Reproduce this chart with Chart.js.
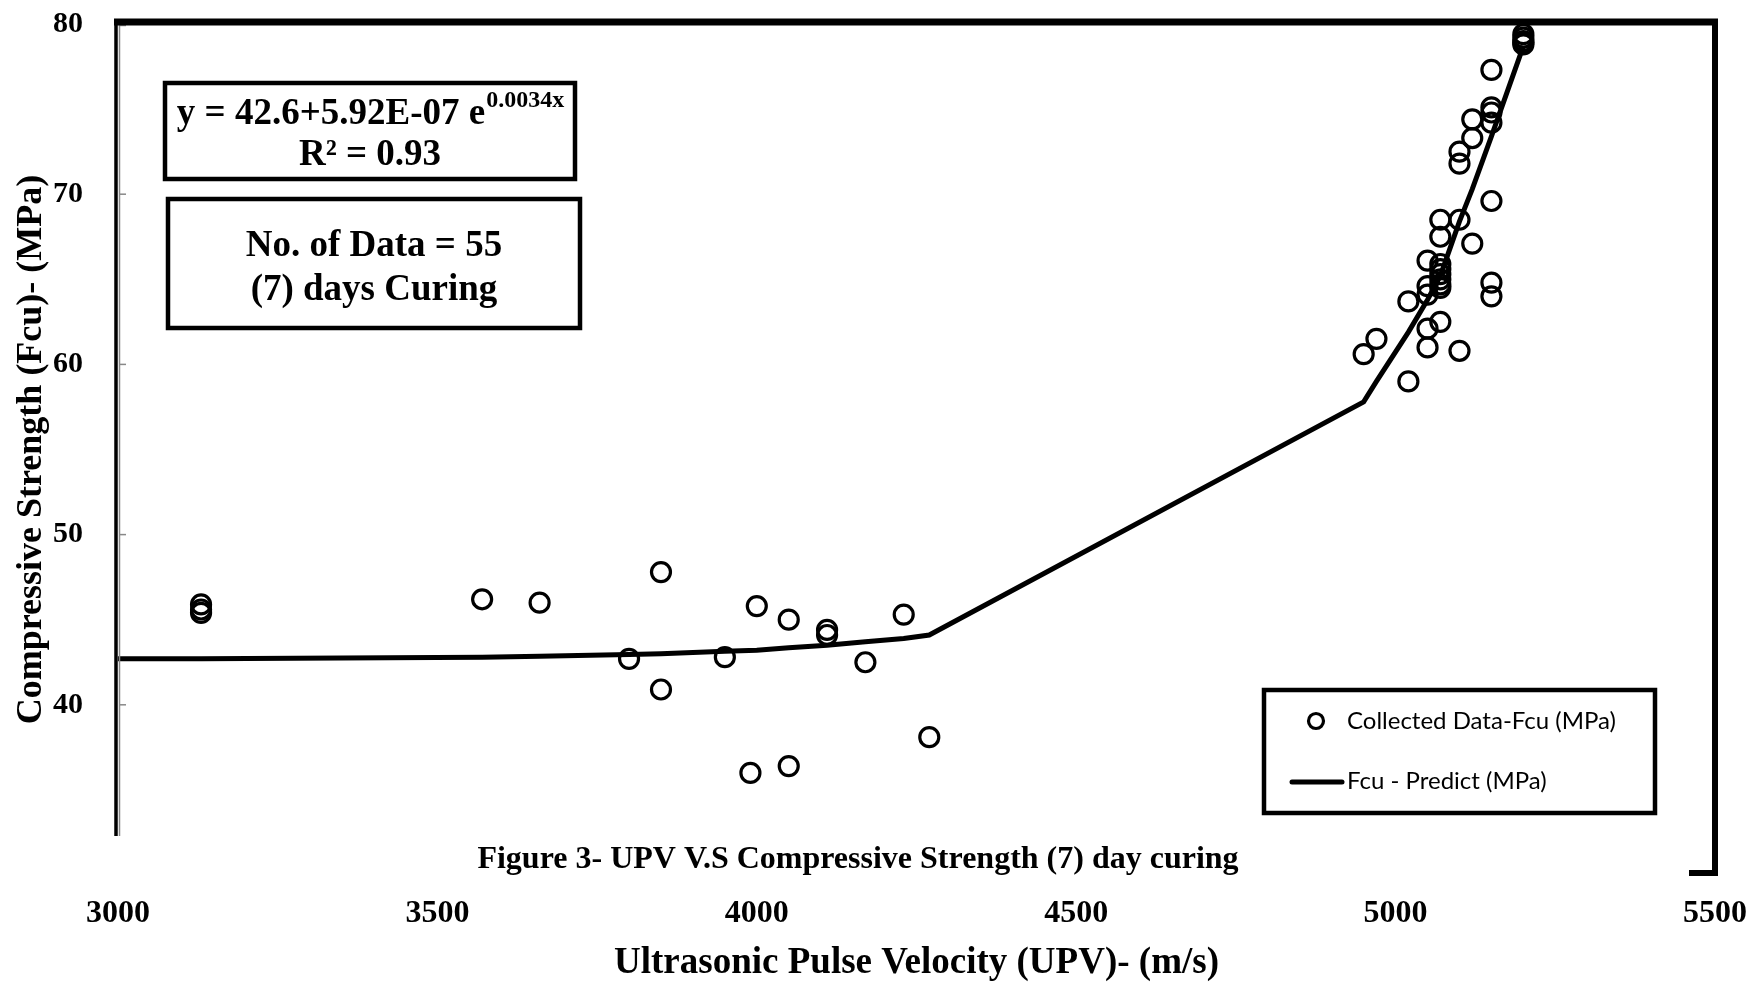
<!DOCTYPE html>
<html>
<head>
<meta charset="utf-8">
<script src="https://cdn.jsdelivr.net/npm/chart.js@4/dist/chart.umd.min.js"></script>
<style>
html,body{margin:0;padding:0;background:#fff;}
#c{display:block;}
</style>
</head>
<body>
<canvas id="c" width="1756" height="983"></canvas>
<script>
// Collected data: UPV (m/s) and Fcu (MPa)
const upvData = [
  3130, 3130, 3130, 3570, 3660, 3800, 3850, 3850, 3950, 3990, 4000, 4050, 4050, 4110, 4110, 4170, 4230, 4270,
  4950, 4970, 5020, 5020,
  5050, 5050, 5050, 5050, 5050,
  5070, 5070, 5070, 5070, 5070, 5070, 5070, 5070, 5070,
  5100, 5100, 5100, 5100,
  5120, 5120, 5120,
  5150, 5150, 5150, 5150, 5150, 5150, 5150,
  5200, 5200, 5200, 5200, 5200
];
const fcuData = [
  45.9, 45.6, 45.4, 46.2, 46.0, 42.7, 47.8, 40.9, 42.8, 36.0, 45.8, 45.0, 36.4, 44.4, 44.1, 42.5, 45.3, 38.1,
  60.6, 61.5, 63.7, 59.0,
  66.1, 64.6, 64.1, 62.1, 61.0,
  68.5, 67.5, 65.9, 65.6, 65.3, 65.0, 64.7, 64.5, 62.5,
  72.5, 71.8, 68.5, 60.8,
  74.4, 73.3, 67.1,
  77.3, 75.1, 74.8, 74.2, 69.6, 64.8, 64.0,
  79.4, 79.2, 79.0, 78.9, 78.8
];
// Predicted Fcu line vertices
const predX = [3000, 3130, 3570, 3660, 3800, 3850, 3950, 4000, 4050, 4110, 4170, 4230, 4270, 4950, 4970, 5020, 5050, 5070, 5100, 5120, 5150, 5200];
const predY = [42.7, 42.7, 42.8, 42.85, 42.95, 43.0, 43.15, 43.2, 43.35, 43.5, 43.7, 43.9, 44.1, 57.8, 59.0, 61.9, 63.8, 65.2, 68.4, 70.3, 73.4, 78.7];
// Axis settings
const xMin = 3000, xMax = 5500, xStep = 500;
const yMin = 30, yMax = 80, yStep = 10;
const xTitle = 'Ultrasonic Pulse Velocity (UPV)- (m/s)';
const yTitle = 'Compressive Strength (Fcu)- (MPa)';
const caption = 'Figure 3- UPV V.S Compressive Strength (7) day curing';
const legendLabels = ['Collected Data-Fcu (MPa)', 'Fcu - Predict (MPa)'];

const serif = '"Liberation Serif", "Times New Roman", serif';

const collected = upvData.map((x, i) => ({x: x, y: fcuData[i]}));
const predicted = predX.map((x, i) => ({x: x, y: predY[i]}));

function box(ctx, x, y, w, h, lw) {
  ctx.save();
  ctx.lineWidth = lw;
  ctx.strokeStyle = '#000';
  ctx.fillStyle = '#fff';
  ctx.fillRect(x, y, w, h);
  ctx.strokeRect(x, y, w, h);
  ctx.restore();
}

const decor = {
  id: 'decor',
  afterDraw(chart) {
    const ctx = chart.ctx;
    const a = chart.chartArea;
    const ys = chart.scales.y;
    ctx.save();
    // white cover band with caption
    ctx.fillStyle = '#fff';
    ctx.fillRect(0, 836, 1690, 44);
    // frame
    ctx.strokeStyle = '#000';
    ctx.lineCap = 'butt';
    // left axis
    ctx.lineWidth = 3.5;
    ctx.beginPath(); ctx.moveTo(a.left - 2, a.top - 4); ctx.lineTo(a.left - 2, 836); ctx.stroke();
    // inner grey line & ticks
    ctx.strokeStyle = '#888';
    ctx.lineWidth = 1.5;
    ctx.beginPath(); ctx.moveTo(a.left + 1.5, a.top + 1); ctx.lineTo(a.left + 1.5, 836); ctx.stroke();
    ctx.beginPath(); ctx.moveTo(a.left + 1.5, a.top + 1.5); ctx.lineTo(a.left + 8, a.top + 1.5); ctx.stroke();
    for (let v = yMin + yStep; v < yMax; v += yStep) {
      const py = ys.getPixelForValue(v);
      ctx.beginPath(); ctx.moveTo(a.left + 1, py); ctx.lineTo(a.left + 8, py); ctx.stroke();
    }
    ctx.strokeStyle = '#000';
    // top border
    ctx.lineWidth = 7;
    ctx.beginPath(); ctx.moveTo(a.left - 4, a.top - 2); ctx.lineTo(a.right + 3, a.top - 2); ctx.stroke();
    // right border
    ctx.lineWidth = 6;
    ctx.beginPath(); ctx.moveTo(a.right, a.top - 5); ctx.lineTo(a.right, 873); ctx.lineTo(1689, 873); ctx.stroke();

    // caption
    ctx.fillStyle = '#000';
    ctx.font = 'bold 32px ' + serif;
    ctx.textAlign = 'center';
    ctx.textBaseline = 'middle';
    ctx.fillText(caption, 858, 860);

    // equation box
    box(ctx, 165, 83, 410, 96, 4.5);
    ctx.fillStyle = '#000';
    ctx.font = 'bold 37px ' + serif;
    ctx.textBaseline = 'alphabetic';
    ctx.textAlign = 'left';
    const main = 'y = 42.6+5.92E-07 e';
    const sup = '0.0034x';
    const w1 = ctx.measureText(main).width;
    ctx.font = 'bold 24px ' + serif;
    const w2 = ctx.measureText(sup).width;
    const sx = 370 - (w1 + w2) / 2;
    ctx.font = 'bold 37px ' + serif;
    ctx.fillText(main, sx, 124);
    ctx.font = 'bold 24px ' + serif;
    ctx.fillText(sup, sx + w1 + 1, 107);
    ctx.font = 'bold 37px ' + serif;
    ctx.textAlign = 'center';
    ctx.fillText('R\u00B2 = 0.93', 370, 165);

    // data box
    box(ctx, 168, 199, 412, 129, 4.5);
    ctx.fillStyle = '#000';
    ctx.textAlign = 'center';
    ctx.font = 'bold 37px ' + serif;
    ctx.fillText('No. of Data = 55', 374, 256);
    ctx.fillText('(7) days Curing', 374, 300);

    // legend
    box(ctx, 1264, 690, 391, 123, 4.5);
    ctx.strokeStyle = '#000';
    ctx.lineWidth = 3.2;
    ctx.beginPath(); ctx.arc(1316, 721, 7.5, 0, Math.PI * 2); ctx.stroke();
    ctx.lineWidth = 5;
    ctx.lineCap = 'round';
    ctx.beginPath(); ctx.moveTo(1292, 782); ctx.lineTo(1342, 782); ctx.stroke();
    ctx.fillStyle = '#000';
    ctx.font = '24px Lato, "Open Sans", sans-serif';
    ctx.textAlign = 'left';
    ctx.textBaseline = 'middle';
    ctx.fillText(legendLabels[0], 1347, 721);
    ctx.fillText(legendLabels[1], 1347, 781);
    ctx.restore();
  }
};

new Chart(document.getElementById('c'), {
  type: 'scatter',
  data: {
    datasets: [
      {
        label: legendLabels[0],
        data: collected,
        showLine: false,
        pointStyle: 'circle',
        pointRadius: 9.5,
        pointBorderWidth: 3.2,
        pointBorderColor: '#000',
        pointBackgroundColor: 'rgba(0,0,0,0)',
        order: 1
      },
      {
        label: legendLabels[1],
        data: predicted,
        showLine: true,
        borderColor: '#000',
        borderWidth: 5,
        pointRadius: 0,
        tension: 0,
        fill: false,
        order: 2
      }
    ]
  },
  options: {
    responsive: false,
    animation: false,
    devicePixelRatio: 1,
    layout: {padding: {left: 0, right: 41, top: 24, bottom: 0}},
    plugins: {legend: {display: false}, tooltip: {enabled: false}},
    scales: {
      x: {
        type: 'linear',
        min: xMin, max: xMax,
        grid: {display: false},
        border: {display: false},
        ticks: {stepSize: xStep, color: '#000', font: {family: serif, weight: 'bold', size: 32}, padding: 12, maxRotation: 0,
          callback: v => String(v)},
        title: {display: true, text: xTitle, color: '#000', font: {family: serif, weight: 'bold', size: 37, lineHeight: 1.05}, padding: {top: 0, bottom: 0}},
        afterFit(s) { s.height = 108; s.paddingLeft = 0; s.paddingRight = 0; }
      },
      y: {
        type: 'linear',
        min: yMin, max: yMax,
        grid: {display: false},
        border: {display: false},
        ticks: {stepSize: yStep, color: '#000', font: {family: serif, weight: 'bold', size: 30}, padding: 27,
          callback: v => v === yMin ? '' : String(v)},
        title: {display: true, text: yTitle, color: '#000', font: {family: serif, weight: 'bold', size: 36}, padding: {top: 10, bottom: 0}},
        afterFit(s) { s.width = 118; s.paddingTop = 0; s.paddingBottom = 0; }
      }
    }
  },
  plugins: [decor]
});
</script>
</body>
</html>
